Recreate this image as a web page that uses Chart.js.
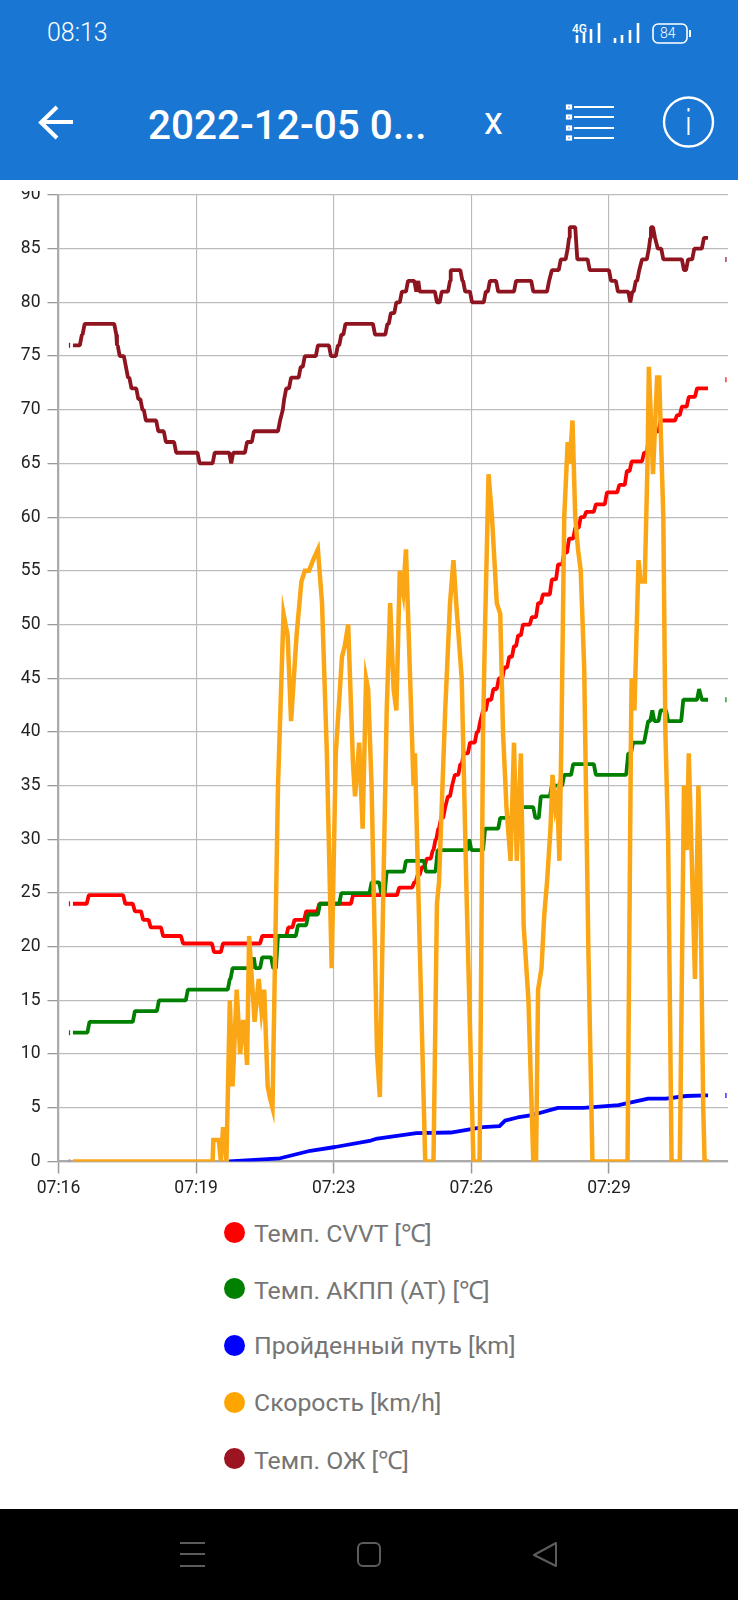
<!DOCTYPE html>
<html><head><meta charset="utf-8">
<script src="https://cdn.jsdelivr.net/npm/chart.js@4"></script>
<style>
html,body{margin:0;padding:0;background:#fff;width:738px;height:1600px;overflow:hidden;font-family:Roboto,sans-serif}
.abs{position:absolute}
#hdr{left:0;top:0;width:738px;height:180px;background:#1976d3}
#nav{left:0;top:1509px;width:738px;height:91px;background:#000}
#chartBox{left:0;top:191px;width:738px;height:1015px}
.t{position:absolute;color:#fff;white-space:nowrap;line-height:1}
.lg{position:absolute;left:224px;height:30px;display:flex;align-items:center}
.lg i{display:block;width:21px;height:21px;border-radius:50%;margin-right:9px}
.lg span{font-size:24.8px;color:#757575;white-space:nowrap}
.lg b{font-weight:400;letter-spacing:-3px;margin-right:2px}
</style></head><body>
<div id="hdr" class="abs">
<div class="t" style="left:47px;top:20px;font-size:25px;font-weight:300">08:13</div>
<div class="t" style="left:148px;top:105px;font-size:40.5px;font-weight:500">2022-12-05 0...</div>
<div class="t" style="left:484px;top:102px;font-size:38px;font-weight:400">x</div>
<svg class="abs" style="left:0;top:0" width="738" height="180" fill="none" stroke="#fff">
<path d="M73 122H42M57 107L41 122.500L57 138" stroke-width="4"/>
<g stroke-width="2.200"><path d="M574 107H614M574 117H614M574 128H614M574 138H614"/>
<rect x="567" y="105.500" width="4" height="3"/><rect x="567" y="115.500" width="4" height="3"/><rect x="567" y="126.500" width="4" height="3"/><rect x="567" y="136.500" width="4" height="3"/></g>
<circle cx="688.500" cy="122" r="24.500" stroke-width="2.400"/>
<path d="M688.500 117V135M688.500 108V111.500" stroke-width="2"/>
<g stroke-width="2.600"><path d="M577 43V35M584 43V33M591 43V29M599 43V23"/><path d="M615 43V38M622 43V35M630 43V30M638 43V23"/></g>
<rect x="653" y="24" width="34" height="19" rx="5" stroke-width="1.600"/>
<path d="M690 30V37" stroke-width="2"/>
</svg>
<div class="t" style="left:572px;top:23px;font-size:12px;font-weight:500">4G</div>
<div class="t" style="left:660px;top:26px;font-size:14px;font-weight:300">84</div>
</div>
<div id="chartBox" class="abs"><canvas id="c" width="738" height="1015"></canvas></div>
<div id="legend"></div>
<div id="nav" class="abs">
<svg width="738" height="91" fill="none" stroke="#5c5c5c" stroke-width="2">
<path d="M180 34H205M180 45H205M180 57H205"/>
<rect x="358" y="34" width="22" height="23" rx="5"/>
<path d="M556 34V57L534 46Z" stroke-linejoin="round"/>
</svg></div>
<script>
// Seconds since the start of the log, and the readings at those moments
const xTickValues = [0,200,400,600,800];
const xTickLabels = ["07:16","07:19","07:23","07:26","07:29"];
const yTickStep = 5;
const seriesNames = ["Темп. CVVT [℃]","Темп. АКПП (AT) [℃]","Пройденный путь [km]","Скорость [km/h]","Темп. ОЖ [℃]"];

const cvvtTime = [16,18,21,44,97,111,123,134,152,181,226,239,296,334,343,360,379,428,495,517,522,528,535,544,548,552,556,562,566,572,576,584,589,598,608,613,617,624,632,640,648,655,662,668,675,688,697,704,717,726,735,742,751,759,767,781,797,815,826,833,851,858,867,875,899,906,916,928,944,950,970];
const cvvtTemp = [24,null,24,24.8,24,23.3,22.5,21.8,21,20.3,19.5,20.3,21,21.8,22.5,23.3,24,24.8,25.5,26,26.7,27.4,28.2,29,30,31,32,33,34,35,36,37,38,39,40,41,42,43,44,45,46,47,48,49,50,50.7,52,52.8,54.2,55.6,56.7,58,59,60,60.5,61.2,62.3,63,64.3,65.2,66,67.4,68,69,69.5,70.3,71.2,72,72,null,72.8];

const atTime = [16,18,21,45,111,146,188,249,253,284,286,296,312,319,348,363,380,411,455,469,477,505,534,551,597,600,620,642,669,693,701,717,735,748,781,828,835,854,857,863,866,875,886,908,931,935,944,950,970];
const atTemp = [12,null,12,13,14,15,16,17,18,19,18,19,18,21,22,23,24,25,26,25,27,28,27,29,30,29,31,32,33,32,34,35,36,37,36,38,39,40,41,42,41,42,41,43,44,43,43,null,43];

const distTime = [16,18,248,322,366,402,454,461,520,570,617,641,649,667,690,726,763,814,857,883,912,942,944,950,970];
const distKm = [0,null,0,0.3,1,1.35,1.95,2.1,2.65,2.7,3.2,3.3,3.8,4.1,4.35,5,5,5.25,5.85,5.85,6.1,6.15,6.15,null,6.15];

const speedTime = [16,18,21,224,225,233,236,239,242,244,249,253,259,264,268,270,274,277,285,291,295,299,304,307,311,319,327,333,338,346,353,358,364,370,377,383,390,397,403,412,416,421,428,431,437,442,447,450,455,463,467,472,477,482,487,491,496,501,505,510,516,518,525,533,545,550,553,562,569,574,578,586,593,603,612,617,620,625,630,637,642,646,651,657,662,666,672,676,683,690,694,697,702,706,710,715,718,722,725,728,731,735,740,743,747,751,755,759,764,770,776,827,832,833,837,843,846,852,856,858,864,870,873,879,882,886,891,903,909,913,916,920,925,930,932,937,939,944];
const speedKmh = [0,null,0,0,2,2,0,3,3,0,15,7,16,10,13,13,9,21,13,17,14,16,7,6,5,35,51,49,41,49,54,55,55,56,57,52,38,18,38,47,48,50,37,34,39,31,45,44,35,10,6,25,42,52,44,42,55,53,57,47,35,38,20,0,0,24,26,42,52,56,52,45,25,0,0,40,50,64,60,52,51,40,33,28,39,28,38,22,15,0,0,16,18,23,26,31,36,33,34,28,40,60,67,65,69,60,57,55,46,20,0,0,40,45,42,56,54,54,65,74,64,73,73,60,40,30,0,0,35,29,38,29,17,35,30,5,0,0];

const coolantTime = [16,18,21,34,38,84,85,89,98,101,106,116,122,127,145,156,171,205,227,251,254,274,284,322,326,328,331,338,352,358,377,396,406,411,417,460,478,483,491,499,508,520,523,525,550,557,569,570,587,591,601,621,627,639,665,690,713,717,730,740,742,743,754,772,803,813,831,834,839,844,848,858,860,861,867,871,879,909,915,924,938,944,950,970];
const coolantTemp = [76,null,76,77,78,77,76,75,74,73,72,71,70,69,68,67,66,65,66,65,66,67,68,69,70,71,72,73,74,75,76,75,76,77,78,77,78,79,80,81,82,81,82,81,80,81,82,83,82,81,80,81,82,81,82,81,82,83,84,85,86,87,84,83,82,81,80,81,82,83,84,85,86,87,86,85,84,83,84,85,86,86,null,84];

const sampleGap = 3; // a held reading ends one sample before the next value arrives
const lineColors = ["#ff0000","#008000","#0000ff","#fba614","#8e1420"];
const dotColors = ["#ff0000","#008000","#0000ff","#ffa500","#9b1420"];

function pts(t,v){return t.map((x,i)=>({x:x,y:v[i]}));}
function heldPts(t,v){
  const out=[];
  t.forEach((x,i)=>{
    const prev=i>0?v[i-1]:null;
    if(prev!==null&&v[i]!==null&&prev!==v[i]&&x-sampleGap>t[i-1]) out.push({x:x-sampleGap,y:prev});
    out.push({x:x,y:v[i]});
  });
  return out;
}
const endDot = c => (c.dataIndex===0||c.dataIndex===c.dataset.data.length-1)?2.5:0;
function ds(i,data,w,order,join){
  return {label:seriesNames[i],data:data,borderColor:lineColors[i],backgroundColor:lineColors[i],borderJoinStyle:join,
    borderWidth:w,tension:0,order:order,pointRadius:endDot,pointStyle:'line',pointRotation:90,pointBorderWidth:1.2,pointBorderColor:lineColors[i],pointHoverRadius:0,spanGaps:false,fill:false};
}
const zeroPad = s => {s.paddingTop=0;s.paddingBottom=0;s.paddingLeft=0;s.paddingRight=0;};
new Chart(document.getElementById('c'),{
  type:'line',
  data:{datasets:[
    ds(0,heldPts(cvvtTime,cvvtTemp),3.8,4,'bevel'),
    ds(1,heldPts(atTime,atTemp),3.8,3,'bevel'),
    ds(2,pts(distTime,distKm),3.8,2,'round'),
    ds(3,pts(speedTime,speedKmh),4.5,1,'miter'),
    ds(4,heldPts(coolantTime,coolantTemp),3.8,0,'bevel')
  ]},
  options:{
    responsive:false,animation:false,
    layout:{padding:{top:4,right:10,left:0,bottom:0}},
    plugins:{legend:{display:false},tooltip:{enabled:false}},
    scales:{
      x:{type:'linear',min:0,max:973,
        afterFit:s=>{s.height=44.5;zeroPad(s);},
        afterBuildTicks:s=>{s.ticks=xTickValues.map(v=>({value:v}));},
        grid:{color:'#b9b9b9',lineWidth:1.100,tickColor:'#999',tickLength:12,tickWidth:1.500},
        border:{color:'#ababab',width:2.200},
        ticks:{autoSkip:false,maxRotation:0,padding:5,color:'#222',font:{family:'Roboto',size:17.500},
          callback:(v,i)=>xTickLabels[i]}},
      y:{min:0,max:90,
        afterFit:s=>{s.width=58.5;zeroPad(s);},
        grid:{color:'#bcbcbc',lineWidth:1.300,tickColor:'#999',tickLength:11,tickWidth:1.300},
        border:{color:'#ababab',width:2.200},
        ticks:{stepSize:yTickStep,padding:7,color:'#222',font:{family:'Roboto',size:17.500}}}
    }
  }
});
const lg=document.getElementById('legend');
seriesNames.forEach((n,i)=>{
  const d=document.createElement('div');d.className='lg';d.style.top=(1217+i*56.67)+'px';
  d.innerHTML='<i style="background:'+dotColors[i]+'"></i><span>'+n.replace('℃','<b>℃</b>')+'</span>';lg.appendChild(d);
});
</script>
</body></html>
